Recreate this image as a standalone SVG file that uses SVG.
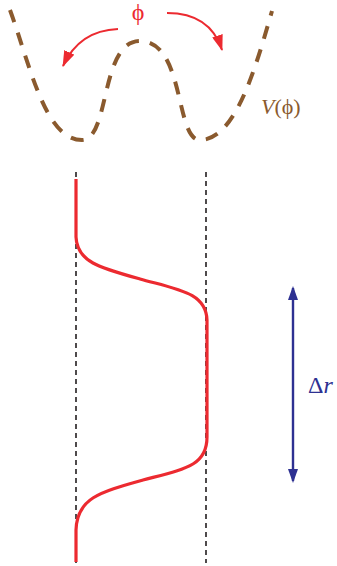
<svg xmlns="http://www.w3.org/2000/svg" width="337" height="566" viewBox="0 0 337 566">
<defs>
<style>
.pot{fill:none;stroke:#8a5a2e;stroke-width:4;stroke-dasharray:13 11}
.guide{fill:none;stroke:#231f20;stroke-width:1.6;stroke-dasharray:5 4}
.red{fill:none;stroke:#ec2a30;stroke-width:2}
.prof{fill:none;stroke:#ec2a30;stroke-width:3.2}
.blue{fill:none;stroke:#2e3192;stroke-width:2.4}
.serif{font-family:'Liberation Serif','Times New Roman','DejaVu Serif',serif}
</style>
<marker id="ra" viewBox="0 0 16 11" refX="15" refY="5.5" markerWidth="16" markerHeight="11" markerUnits="userSpaceOnUse" orient="auto"><path d="M0,0 L16,5.5 L0,11 Z" fill="#ec2a30"/></marker>
<marker id="ba" viewBox="0 0 14 10" refX="12" refY="5" markerWidth="14" markerHeight="10" markerUnits="userSpaceOnUse" orient="auto-start-reverse"><path d="M0,0 L14,5 L0,10 Z" fill="#2e3192"/></marker>
</defs>
<g id="potential">
<path class="pot" d="M10,10 C30,65 45,140 82,140 C110,140 100,41 140,41 C185,41 175,140 200,140 C235,140 255,70 272,11"/>
<text class="serif" x="261" y="114" font-size="22" fill="#8a5a2e"><tspan font-style="italic">V</tspan>(ϕ)</text>
</g>
<g id="phi-label">
<text class="serif" x="138" y="20" text-anchor="middle" font-size="24" fill="#ec2a30">ϕ</text>
</g>
<g id="connectors">
<path class="red" d="M118,29 C92,30 74,42 63,66" marker-end="url(#ra)"/>
<path class="red" d="M167,13 C195,13 214,25 222,50" marker-end="url(#ra)"/>
<path class="blue" d="M293,288 L293,481" marker-start="url(#ba)" marker-end="url(#ba)"/>
</g>
<g id="guides">
<line class="guide" x1="76" y1="172" x2="76" y2="563"/>
<line class="guide" x1="206" y1="172" x2="206" y2="563"/>
</g>
<g id="profile">
<path class="prof" d="M76,179 V237 C77,262 100,268 140,279 C180,290 206,293 207,320 V437 C207,466 185,469 143,480 C100,492 77,498 76,530 V562"/>
</g>
<g id="delta-r">
<text class="serif" x="308" y="393" font-size="24" fill="#2e3192">Δ<tspan font-style="italic">r</tspan></text>
</g>
</svg>
